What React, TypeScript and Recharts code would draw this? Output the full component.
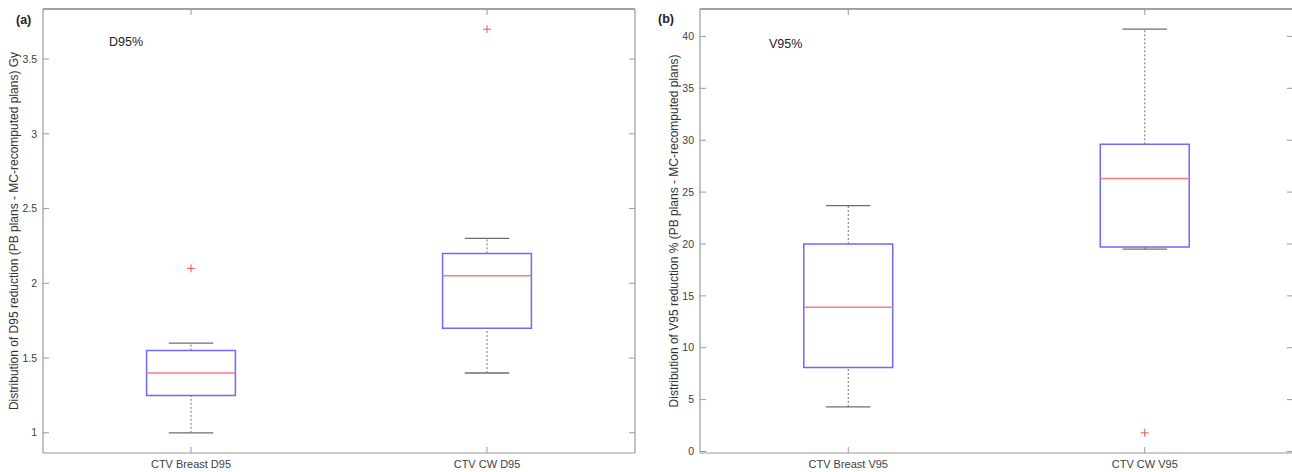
import React from 'react';
import {
  ComposedChart,
  XAxis,
  YAxis,
  Scatter,
  ReferenceArea,
  ReferenceLine,
} from 'recharts';

// ---------- data ----------
const d95Categories = ['CTV Breast D95', 'CTV CW D95'];
const d95Min = [1.0, 1.4];
const d95Q1 = [1.25, 1.7];
const d95Median = [1.4, 2.05];
const d95Q3 = [1.55, 2.2];
const d95Max = [1.6, 2.3];
const d95Outliers = [[2.1], [3.7]];
const d95Ticks = [1, 1.5, 2, 2.5, 3, 3.5];

const v95Categories = ['CTV Breast V95', 'CTV CW V95'];
const v95Min = [4.3, 19.5];
const v95Q1 = [8.1, 19.7];
const v95Median = [13.9, 26.3];
const v95Q3 = [20.0, 29.6];
const v95Max = [23.7, 40.7];
const v95Outliers: number[][] = [[], [1.8]];
const v95Ticks = [0, 5, 10, 15, 20, 25, 30, 35, 40];

// ---------- styles ----------
const FONT = '"Liberation Sans", Arial, Helvetica, sans-serif';
const AXIS_GRAY = '#9a9a9a';
const TICK_TEXT = '#404040';
const BOX_BLUE = '#6a6aff';
const MEDIAN_RED = '#ff7a7a';
const WHISKER = '#6e6e6e';
const TICK_LEN = 6;

type PanelProps = {
  left: number;
  width: number;
  rightAxisWidth: number;
  categories: string[];
  mins: number[];
  q1s: number[];
  medians: number[];
  q3s: number[];
  maxs: number[];
  outliers: number[][];
  ticks: number[];
  yLabel: string;
  labelX: number;
};

function YLabel(props: any) {
  const vb = props.viewBox || {};
  const cy = (vb.y ?? 9) + (vb.height ?? 444) / 2;
  const cx = props.cx;
  return (
    <text
      x={cx}
      y={cy}
      transform={`rotate(-90, ${cx}, ${cy})`}
      textAnchor="middle"
      dominantBaseline="central"
      fontFamily={FONT}
      fontSize={12}
      fill="#333"
    >
      {props.text}
    </text>
  );
}

function BoxPanel(p: PanelProps) {
  const all: number[] = [];
  p.mins.forEach((v) => all.push(v));
  p.maxs.forEach((v) => all.push(v));
  p.outliers.forEach((arr) => arr.forEach((v) => all.push(v)));
  const lo = Math.min(...all);
  const hi = Math.max(...all);
  const pad = (hi - lo) * 0.05;
  const domain: [number, number] = [lo - pad, hi + pad];

  const outlierData: { x: number; y: number }[] = [];
  p.outliers.forEach((arr, i) => arr.forEach((v) => outlierData.push({ x: i + 1, y: v })));

  const LeftTick = (t: any) => (
    <g>
      <line x1={t.x + 6} x2={t.x + 6 + TICK_LEN} y1={t.y} y2={t.y} stroke={AXIS_GRAY} />
      <text
        x={t.x}
        y={t.y}
        dy="0.35em"
        textAnchor="end"
        fontFamily={FONT}
        fontSize={10.5}
        fill={TICK_TEXT}
      >
        {String(t.payload.value)}
      </text>
    </g>
  );
  const RightTick = (t: any) => (
    <line x1={t.x - TICK_LEN} x2={t.x} y1={t.y} y2={t.y} stroke={AXIS_GRAY} />
  );
  const TopTick = (t: any) => (
    <line x1={t.x} x2={t.x} y1={t.y} y2={t.y + TICK_LEN} stroke={AXIS_GRAY} />
  );
  const BottomTick = (t: any) => (
    <g>
      <line x1={t.x} x2={t.x} y1={t.y - TICK_LEN} y2={t.y} stroke={AXIS_GRAY} />
      <text
        x={t.x}
        y={t.y + 15}
        textAnchor="middle"
        fontFamily={FONT}
        fontSize={11}
        fill={TICK_TEXT}
      >
        {p.categories[Math.round(t.payload.value) - 1]}
      </text>
    </g>
  );

  const Plus = (s: any) => (
    <g>
      <line x1={s.cx - 4} x2={s.cx + 4} y1={s.cy} y2={s.cy} stroke="#ff4d4d" strokeWidth={1} />
      <line x1={s.cx} x2={s.cx} y1={s.cy - 4} y2={s.cy + 4} stroke="#ff4d4d" strokeWidth={1} />
    </g>
  );

  return (
    <div style={{ position: 'absolute', left: p.left, top: 0 }}>
      <ComposedChart
        width={p.width}
        height={472}
        margin={{ top: 8, right: 0, bottom: 0, left: 0 }}
      >
        <XAxis
          xAxisId="bottom"
          type="number"
          dataKey="x"
          domain={[0.5, 2.5]}
          ticks={[1, 2]}
          interval={0}
          height={19}
          tickSize={0}
          tickMargin={0}
          tick={<BottomTick />}
          tickLine={false}
          axisLine={{ stroke: AXIS_GRAY, strokeWidth: 1.2 }}
          allowDataOverflow
        />
        <XAxis
          xAxisId="top"
          orientation="top"
          type="number"
          dataKey="x"
          domain={[0.5, 2.5]}
          ticks={[1, 2]}
          interval={0}
          height={1}
          tickSize={0}
          tickMargin={0}
          tick={<TopTick />}
          tickLine={false}
          axisLine={{ stroke: '#444', strokeWidth: 1.2 }}
          allowDataOverflow
        />
        <YAxis
          yAxisId="left"
          type="number"
          dataKey="y"
          domain={domain}
          ticks={p.ticks}
          interval={0}
          width={43}
          tickSize={0}
          tickMargin={6}
          tick={<LeftTick />}
          tickLine={false}
          axisLine={{ stroke: AXIS_GRAY, strokeWidth: 1.2 }}
          allowDataOverflow
          label={<YLabel text={p.yLabel} cx={p.labelX} />}
        />
        <YAxis
          yAxisId="right"
          orientation="right"
          type="number"
          dataKey="y"
          domain={domain}
          ticks={p.ticks}
          interval={0}
          width={p.rightAxisWidth}
          tickSize={0}
          tickMargin={0}
          tick={<RightTick />}
          tickLine={false}
          axisLine={{ stroke: AXIS_GRAY, strokeWidth: 1.2 }}
          allowDataOverflow
        />

        {p.categories.map((_, i) => {
          const pos = i + 1;
          return (
            <React.Fragment key={`w${i}`}>
              <ReferenceLine
                xAxisId="bottom"
                yAxisId="left"
                segment={[{ x: pos, y: p.q3s[i] }, { x: pos, y: p.maxs[i] }]}
                stroke={WHISKER}
                strokeDasharray="2 2"
                strokeWidth={1}
                ifOverflow="visible"
              />
              <ReferenceLine
                xAxisId="bottom"
                yAxisId="left"
                segment={[{ x: pos, y: p.mins[i] }, { x: pos, y: p.q1s[i] }]}
                stroke={WHISKER}
                strokeDasharray="2 2"
                strokeWidth={1}
                ifOverflow="visible"
              />
            </React.Fragment>
          );
        })}

        {p.categories.map((_, i) => {
          const pos = i + 1;
          return (
            <React.Fragment key={`c${i}`}>
              <ReferenceLine
                xAxisId="bottom"
                yAxisId="left"
                segment={[{ x: pos - 0.075, y: p.maxs[i] }, { x: pos + 0.075, y: p.maxs[i] }]}
                stroke={WHISKER}
                strokeWidth={1.3}
                ifOverflow="visible"
              />
              <ReferenceLine
                xAxisId="bottom"
                yAxisId="left"
                segment={[{ x: pos - 0.075, y: p.mins[i] }, { x: pos + 0.075, y: p.mins[i] }]}
                stroke={WHISKER}
                strokeWidth={1.3}
                ifOverflow="visible"
              />
            </React.Fragment>
          );
        })}

        {p.categories.map((_, i) => {
          const pos = i + 1;
          return (
            <ReferenceArea
              key={`b${i}`}
              xAxisId="bottom"
              yAxisId="left"
              x1={pos - 0.15}
              x2={pos + 0.15}
              y1={p.q1s[i]}
              y2={p.q3s[i]}
              stroke={BOX_BLUE}
              strokeWidth={1.5}
              fill="#ffffff"
              fillOpacity={0}
              strokeOpacity={1}
              ifOverflow="visible"
            />
          );
        })}

        {p.categories.map((_, i) => {
          const pos = i + 1;
          return (
            <ReferenceLine
              key={`m${i}`}
              xAxisId="bottom"
              yAxisId="left"
              segment={[{ x: pos - 0.15, y: p.medians[i] }, { x: pos + 0.15, y: p.medians[i] }]}
              stroke={MEDIAN_RED}
              strokeWidth={1.5}
              ifOverflow="visible"
            />
          );
        })}

        <Scatter
          xAxisId="bottom"
          yAxisId="left"
          data={outlierData}
          dataKey="y"
          shape={<Plus />}
          isAnimationActive={false}
        />
      </ComposedChart>
    </div>
  );
}

const annot = (text: string, left: number, top: number, size: number, bold: boolean) => (
  <div
    style={{
      position: 'absolute',
      left,
      top,
      fontFamily: FONT,
      fontSize: size,
      lineHeight: `${size}px`,
      fontWeight: bold ? 700 : 400,
      color: '#222',
      whiteSpace: 'nowrap',
    }}
  >
    {text}
  </div>
);

export default function App() {
  return (
    <div
      style={{
        position: 'absolute',
        left: 0,
        top: 0,
        width: 1292,
        height: 472,
        overflow: 'hidden',
        background: '#ffffff',
      }}
    >
      <BoxPanel
        left={0}
        width={640}
        rightAxisWidth={5}
        categories={d95Categories}
        mins={d95Min}
        q1s={d95Q1}
        medians={d95Median}
        q3s={d95Q3}
        maxs={d95Max}
        outliers={d95Outliers}
        ticks={d95Ticks}
        yLabel="Distribution of D95 reduction (PB plans - MC-recomputed plans) Gy"
        labelX={14}
      />
      <BoxPanel
        left={657}
        width={646}
        rightAxisWidth={10}
        categories={v95Categories}
        mins={v95Min}
        q1s={v95Q1}
        medians={v95Median}
        q3s={v95Q3}
        maxs={v95Max}
        outliers={v95Outliers}
        ticks={v95Ticks}
        yLabel="Distribution of V95 reduction %  (PB plans - MC-recomputed plans)"
        labelX={17}
      />
      {annot('(a)', 16, 14, 12.5, true)}
      {annot('D95%', 109, 36, 12.5, false)}
      {annot('(b)', 658, 13, 12.5, true)}
      {annot('V95%', 769, 38, 12.5, false)}
    </div>
  );
}
